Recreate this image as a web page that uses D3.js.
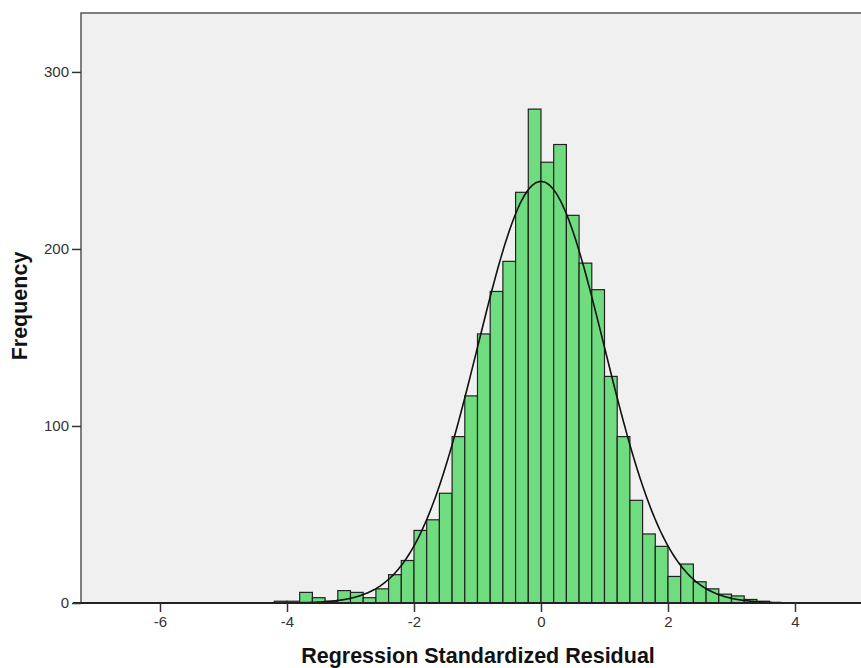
<!-- Histogram of regression standardized residuals with normal curve -->
<!DOCTYPE html>
<html>
<head>
<meta charset="utf-8">
<style>
  body { margin: 0; background: #fff; }
  svg { display: block; font-family: "Liberation Sans", Arial, sans-serif; }
</style>
</head>
<body>
<svg width="861" height="668"></svg>
<script src="https://d3js.org/d3.v7.min.js"></script>
<script>
// lower edge of each 0.2 wide bin
const binStart = [-4.2, -4.0, -3.8, -3.6, -3.4, -3.2, -3.0, -2.8, -2.6, -2.4, -2.2,
  -2.0, -1.8, -1.6, -1.4, -1.2, -1.0, -0.8, -0.6, -0.4, -0.2,
  0.0, 0.2, 0.4, 0.6, 0.8, 1.0, 1.2, 1.4, 1.6, 1.8, 2.0, 2.2, 2.4, 2.6, 2.8, 3.0, 3.2, 3.4];
const counts = [1, 1, 6, 3, 1, 7, 6, 3, 8, 16, 24,
  41, 47, 62, 94, 117, 152, 176, 193, 232, 279,
  249, 259, 219, 192, 177, 128, 94, 58, 39, 32, 15, 22, 12, 8, 5, 4, 2, 1];
const binWidth = 0.2;
const mean = 0, stdDev = 1.0;
const xTicks = [-6, -4, -2, 0, 2, 4];
const yTicks = [0, 100, 200, 300];

const svg = d3.select("svg");
const m = { left: 81, top: 13, right: 875, bottom: 603 };

const x = d3.scaleLinear().domain([-7.244, 5.26]).range([m.left, m.right]);
const y = d3.scaleLinear().domain([0, 333.3]).range([m.bottom, m.top]);

// plot background
svg.append("rect")
  .attr("x", m.left).attr("y", m.top)
  .attr("width", m.right - m.left).attr("height", m.bottom - m.top)
  .attr("fill", "#f0f0f0");

// bars
const data = binStart.map((b, i) => ({ x0: b, x1: b + binWidth, n: counts[i] }));
svg.append("g").selectAll("rect").data(data).enter()
  .append("rect")
  .attr("x", d => x(d.x0))
  .attr("y", d => y(d.n))
  .attr("width", d => x(d.x1) - x(d.x0))
  .attr("height", d => y(0) - y(d.n))
  .attr("fill", "#70dc80")
  .attr("stroke", "#222")
  .attr("stroke-width", 1.2);

// normal curve
const N = d3.sum(counts);
const pdf = v => Math.exp(-0.5 * ((v - mean) / stdDev) ** 2) / (stdDev * Math.sqrt(2 * Math.PI));
const xs = d3.range(0, 601).map(i => -7.2 + i * (12.4 / 600));
svg.append("path")
  .datum(xs)
  .attr("fill", "none")
  .attr("stroke", "#111")
  .attr("stroke-width", 1.6)
  .attr("d", d3.line().x(v => x(v)).y(v => y(N * binWidth * pdf(v))).curve(d3.curveBasis));

// frame (left and top)
svg.append("path")
  .attr("d", `M${m.left},${m.bottom}V${m.top}H${m.right}`)
  .attr("fill", "none")
  .attr("stroke", "#555")
  .attr("stroke-width", 1.5);

// x axis
const xAxis = svg.append("g")
  .attr("transform", `translate(0,${m.bottom})`)
  .call(d3.axisBottom(x).tickValues(xTicks).tickSize(9).tickPadding(4));
xAxis.select(".domain").attr("d", `M${m.left - 8},0H${m.right}`).attr("stroke", "#222").attr("stroke-width", 2);
xAxis.selectAll(".tick line").attr("stroke", "#333").attr("stroke-width", 1.5);
xAxis.selectAll(".tick text").attr("font-size", 15).attr("fill", "#333")
  .attr("font-family", "Liberation Sans, Arial, sans-serif").text(d => d < 0 ? "-" + Math.abs(d) : d);

// y axis
const yAxis = svg.append("g")
  .attr("transform", `translate(${m.left},0)`)
  .call(d3.axisLeft(y).tickValues(yTicks).tickSize(9).tickPadding(3));
yAxis.select(".domain").remove();
yAxis.selectAll(".tick line").attr("stroke", "#333").attr("stroke-width", 1.5);
yAxis.selectAll(".tick text").attr("font-size", 15).attr("fill", "#333")
  .attr("font-family", "Liberation Sans, Arial, sans-serif");

// titles
svg.append("text")
  .attr("x", 478).attr("y", 663)
  .attr("text-anchor", "middle")
  .attr("font-size", 21.5).attr("font-weight", "bold").attr("fill", "#111")
  .text("Regression Standardized Residual");

svg.append("text")
  .attr("transform", "translate(27,306) rotate(-90)")
  .attr("text-anchor", "middle")
  .attr("font-size", 21.5).attr("font-weight", "bold").attr("fill", "#111")
  .text("Frequency");
</script>
</body>
</html>
